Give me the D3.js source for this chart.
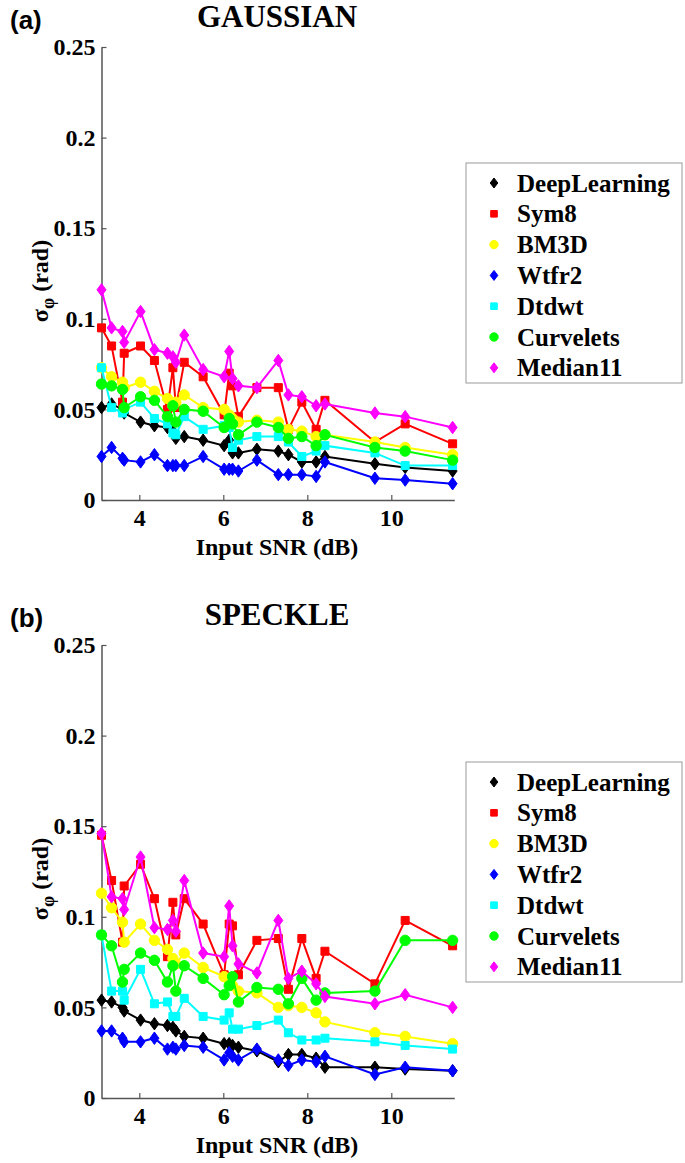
<!DOCTYPE html>
<html>
<head>
<meta charset="utf-8">
<script src="https://cdn.jsdelivr.net/npm/d3@7/dist/d3.min.js"></script>
<style>
  html, body { margin: 0; padding: 0; background: #fff; }
  svg { display: block; }
  text { font-family: "Liberation Serif", "Times New Roman", serif; font-weight: bold; fill: #000; }
</style>
</head>
<body>
<svg id="chart" width="685" height="1163"></svg>
<script>
// ---------- data ----------
const seriesNames = ["DeepLearning", "Sym8", "BM3D", "Wtfr2", "Dtdwt", "Curvelets", "Median11"];
const seriesColors = ["#000000", "#ff0000", "#ffff00", "#0000ff", "#00ffff", "#00ff00", "#ff00ff"];
const seriesMarkers = ["diamond", "square", "circle", "diamond", "square", "circle", "diamond"];

const inputSNR = [3.10, 3.34, 3.60, 3.64, 4.03, 4.36, 4.67, 4.80, 4.87, 5.07, 5.52, 6.02, 6.14, 6.22, 6.36, 6.80, 7.31, 7.55, 7.87, 8.21, 8.42, 9.61, 10.33, 11.46];

const xTicks = [4, 6, 8, 10];
const yTicks = [0, 0.05, 0.1, 0.15, 0.2, 0.25];
const yTickLabels = ["0", "0.05", "0.1", "0.15", "0.2", "0.25"];

// Panel (a) GAUSSIAN
const gaussDeepLearning = [0.051, 0.053, 0.050, 0.048, 0.043, 0.041, 0.040, 0.038, 0.034, 0.035, 0.033, 0.030, 0.033, 0.026, 0.026, 0.028, 0.027, 0.025, 0.021, 0.021, 0.024, 0.020, 0.018, 0.016];
const gaussSym8 = [0.095, 0.085, 0.054, 0.081, 0.085, 0.077, 0.050, 0.073, 0.051, 0.076, 0.068, 0.047, 0.070, 0.063, 0.046, 0.062, 0.062, 0.039, 0.054, 0.039, 0.055, 0.032, 0.042, 0.031];
const gaussBM3D = [0.073, 0.068, 0.065, 0.062, 0.065, 0.060, 0.056, 0.052, 0.054, 0.058, 0.051, 0.050, 0.047, 0.045, 0.043, 0.044, 0.043, 0.039, 0.038, 0.035, 0.036, 0.032, 0.029, 0.025];
const gaussWtfr2 = [0.024, 0.029, 0.023, 0.022, 0.021, 0.025, 0.019, 0.019, 0.019, 0.019, 0.024, 0.017, 0.017, 0.017, 0.016, 0.022, 0.014, 0.014, 0.014, 0.013, 0.021, 0.012, 0.011, 0.009];
const gaussDtdwt = [0.073, 0.051, 0.048, 0.050, 0.054, 0.045, 0.042, 0.037, 0.036, 0.046, 0.039, 0.041, 0.040, 0.029, 0.033, 0.035, 0.035, 0.032, 0.024, 0.027, 0.030, 0.026, 0.019, 0.019];
const gaussCurvelets = [0.064, 0.063, 0.061, 0.051, 0.057, 0.055, 0.046, 0.052, 0.043, 0.050, 0.049, 0.040, 0.045, 0.042, 0.036, 0.043, 0.040, 0.034, 0.035, 0.030, 0.036, 0.029, 0.027, 0.022];
const gaussMedian11 = [0.116, 0.095, 0.093, 0.087, 0.104, 0.083, 0.081, 0.079, 0.076, 0.091, 0.072, 0.068, 0.082, 0.067, 0.063, 0.062, 0.077, 0.058, 0.057, 0.052, 0.053, 0.048, 0.046, 0.040];

// Panel (b) SPECKLE
const speckleDeepLearning = [0.054, 0.053, 0.050, 0.048, 0.043, 0.041, 0.040, 0.039, 0.037, 0.034, 0.033, 0.030, 0.030, 0.029, 0.028, 0.026, 0.020, 0.024, 0.024, 0.022, 0.017, 0.017, 0.016, 0.015];
const speckleSym8 = [0.145, 0.120, 0.086, 0.117, 0.129, 0.110, 0.078, 0.108, 0.090, 0.110, 0.096, 0.068, 0.096, 0.095, 0.068, 0.087, 0.088, 0.060, 0.088, 0.066, 0.081, 0.063, 0.098, 0.084];
const speckleBM3D = [0.113, 0.105, 0.097, 0.086, 0.096, 0.087, 0.082, 0.077, 0.074, 0.080, 0.072, 0.067, 0.065, 0.062, 0.059, 0.058, 0.050, 0.051, 0.050, 0.047, 0.042, 0.036, 0.034, 0.030];
const speckleWtfr2 = [0.037, 0.037, 0.033, 0.031, 0.031, 0.033, 0.027, 0.028, 0.027, 0.029, 0.028, 0.021, 0.025, 0.023, 0.021, 0.027, 0.021, 0.018, 0.021, 0.020, 0.023, 0.013, 0.017, 0.015];
const speckleDtdwt = [0.090, 0.059, 0.059, 0.054, 0.071, 0.052, 0.053, 0.045, 0.045, 0.055, 0.045, 0.043, 0.047, 0.038, 0.038, 0.040, 0.043, 0.036, 0.032, 0.032, 0.033, 0.031, 0.029, 0.027];
const speckleCurvelets = [0.090, 0.084, 0.064, 0.071, 0.080, 0.076, 0.064, 0.073, 0.059, 0.073, 0.066, 0.057, 0.062, 0.067, 0.053, 0.061, 0.060, 0.052, 0.066, 0.054, 0.058, 0.059, 0.087, 0.087];
const speckleMedian11 = [0.146, 0.111, 0.110, 0.104, 0.133, 0.094, 0.093, 0.098, 0.092, 0.120, 0.080, 0.078, 0.106, 0.084, 0.074, 0.069, 0.098, 0.066, 0.070, 0.063, 0.056, 0.052, 0.057, 0.050];

const panels = [
  { tag: "(a)", title: "GAUSSIAN", yOff: 0,
    values: [gaussDeepLearning, gaussSym8, gaussBM3D, gaussWtfr2, gaussDtdwt, gaussCurvelets, gaussMedian11],
    legendTop: 163 },
  { tag: "(b)", title: "SPECKLE", yOff: 598,
    values: [speckleDeepLearning, speckleSym8, speckleBM3D, speckleWtfr2, speckleDtdwt, speckleCurvelets, speckleMedian11],
    legendTop: 762 }
];

// ---------- drawing ----------
const svg = d3.select("#chart");

function markerPath(type, big) {
  if (type === "diamond") {
    const w = big ? 4.5 : 3.8, h = big ? 6.2 : 5;
    return `M0,${-h}L${w},0L0,${h}L${-w},0Z`;
  }
  if (type === "square") {
    const s = big ? 4 : 3.3;
    return `M${-s},${-s}H${s}V${s}H${-s}Z`;
  }
  const r = big ? 5.2 : 4.2;
  return `M${r},0A${r},${r} 0 1,1 ${-r},0A${r},${r} 0 1,1 ${r},0Z`;
}

panels.forEach(p => {
  const g = svg.append("g");
  const x = d3.scaleLinear().domain([3.1, 11.5]).range([101.5, 454.3]);
  const y = d3.scaleLinear().domain([0, 0.25]).range([500 + p.yOff, 47 + p.yOff]);

  // panel tag & title
  g.append("text").attr("x", 10).attr("y", 29 + p.yOff)
    .style("font-family", "'Liberation Sans', Arial, sans-serif")
    .style("font-size", "26px").text(p.tag);
  g.append("text").attr("x", 277).attr("y", 27 + p.yOff)
    .attr("text-anchor", "middle").style("font-size", "31px").text(p.title);

  // axes
  const xAxis = d3.axisBottom(x).tickValues(xTicks).tickFormat(d3.format("d"))
    .tickSizeInner(-5).tickSizeOuter(0).tickPadding(6);
  const yAxis = d3.axisLeft(y).tickValues(yTicks).tickFormat((d, i) => yTickLabels[i])
    .tickSizeInner(-5).tickSizeOuter(0).tickPadding(6);

  const gx = g.append("g").attr("transform", `translate(0,${y(0)})`).call(xAxis);
  const gy = g.append("g").attr("transform", `translate(${x(3.1)},0)`).call(yAxis);
  [gx, gy].forEach(a => {
    a.select(".domain").attr("stroke", "#555").attr("stroke-width", 1.5);
    a.selectAll(".tick line").attr("stroke", "#555").attr("stroke-width", 1.2);
    a.selectAll(".tick text").style("font-family", "'Liberation Serif', serif")
      .style("font-weight", "bold").style("font-size", "24px").attr("fill", "#000");
  });
  gx.selectAll(".tick text").attr("dy", "0.85em");

  // axis labels
  g.append("text").attr("x", 277).attr("y", 555 + p.yOff).attr("text-anchor", "middle")
    .style("font-size", "24px").text("Input SNR (dB)");
  const yl = g.append("text")
    .attr("transform", `translate(48,${281 + p.yOff}) rotate(-90)`)
    .attr("text-anchor", "middle").style("font-size", "24px");
  yl.append("tspan").text("σ");
  yl.append("tspan").attr("dy", 6).style("font-size", "18px").text("φ");
  yl.append("tspan").attr("dy", -6).text(" (rad)");

  // series
  const line = d3.line().x((d, i) => x(inputSNR[i])).y(d => y(d));
  p.values.forEach((vals, k) => {
    const sg = g.append("g");
    sg.append("path").datum(vals).attr("d", line)
      .attr("fill", "none").attr("stroke", seriesColors[k]).attr("stroke-width", 2);
    sg.selectAll("path.m").data(vals).enter().append("path").attr("class", "m")
      .attr("transform", (d, i) => `translate(${x(inputSNR[i])},${y(d)})`)
      .attr("d", markerPath(seriesMarkers[k], true))
      .attr("fill", seriesColors[k]).attr("stroke", seriesColors[k]).attr("stroke-width", 1);
  });

  // legend
  const lg = g.append("g");
  lg.append("rect").attr("x", 466).attr("y", p.legendTop).attr("width", 216).attr("height", 220)
    .attr("fill", "#fff").attr("stroke", "#999").attr("stroke-width", 1);
  seriesNames.forEach((name, k) => {
    const cy = p.legendTop + 20 + k * 30.8;
    lg.append("path").attr("transform", `translate(494,${cy})`)
      .attr("d", markerPath(seriesMarkers[k], false))
      .attr("fill", seriesColors[k]).attr("stroke", seriesColors[k]);
    lg.append("text").attr("x", 517).attr("y", cy + 8.5).style("font-size", "25px").text(name);
  });
});
</script>
</body>
</html>
